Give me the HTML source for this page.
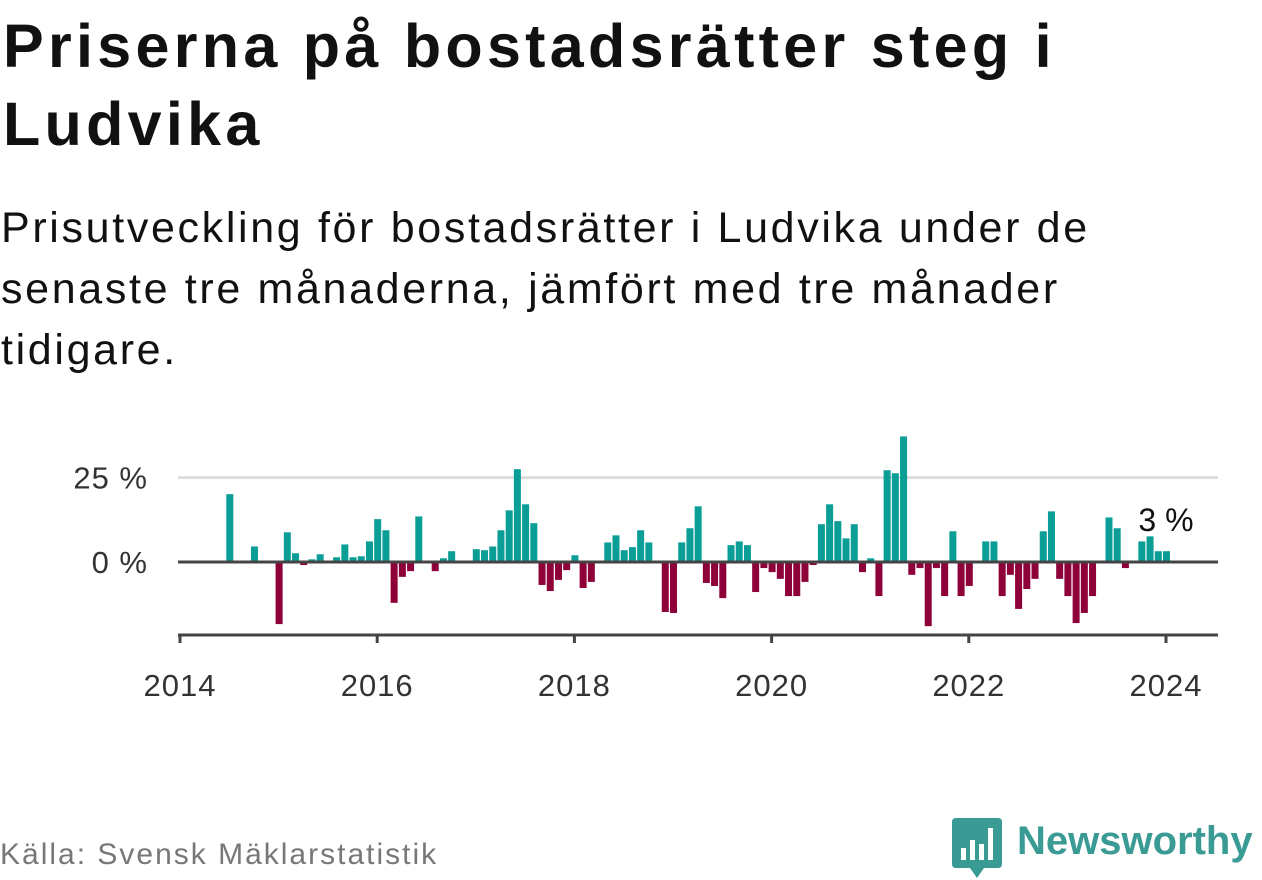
<!DOCTYPE html>
<html><head><meta charset="utf-8">
<style>
body{margin:0;width:1262px;height:879px;background:#fff;overflow:hidden;font-family:"Liberation Sans",sans-serif;position:relative}
h1{position:absolute;left:3px;top:7px;margin:0;font-size:61px;line-height:78px;font-weight:bold;color:#111;letter-spacing:4.3px;white-space:nowrap}
.sub{position:absolute;left:1px;top:198px;margin:0;font-size:43px;line-height:61px;color:#111;letter-spacing:2.65px;white-space:nowrap}
.src{position:absolute;left:0;top:838px;font-size:30px;color:#777;letter-spacing:2px}
.logo{position:absolute;left:952px;top:818px}
.logo-text{position:absolute;left:1017px;top:819px;font-size:40px;font-weight:bold;color:#3a9a94}
</style></head><body>
<h1>Priserna på bostadsrätter steg i<br>Ludvika</h1>
<p class="sub">Prisutveckling för bostadsrätter i Ludvika under de<br>senaste tre månaderna, jämfört med tre månader<br>tidigare.</p>
<svg id="chart" width="1262" height="879" style="position:absolute;left:0;top:0"></svg>
<div class="src">Källa: Svensk Mäklarstatistik</div>
<svg class="logo" width="50" height="62" viewBox="0 0 50 62">
<path d="M4 0H46Q50 0 50 4V46Q50 50 46 50H32L25 60L18 50H4Q0 50 0 46V4Q0 0 4 0Z" fill="#3a9a94"/>
<rect x="9" y="30" width="5" height="12" fill="#fff"/><rect x="18" y="22" width="5" height="20" fill="#fff"/><rect x="27" y="26" width="5" height="16" fill="#fff"/><rect x="36" y="10" width="5" height="32" fill="#fff"/>
</svg>
<div class="logo-text">Newsworthy</div>
<script>
const values = [0,0,0,0,0,0,20.1,0,0,4.6,0,0,
-18.4,8.8,2.6,-0.9,0.8,2.3,0,1.4,5.2,1.4,1.7,6.1,
12.7,9.4,-12.1,-4.4,-2.7,13.5,0,-2.7,1.1,3.2,0,0,
3.8,3.5,4.6,9.4,15.3,27.5,17.1,11.5,-6.8,-8.6,-5.3,-2.4,
2.0,-7.7,-5.9,0,5.8,7.9,3.5,4.4,9.4,5.8,0,-14.8,
-15.1,5.8,10.0,16.5,-6.2,-7.1,-10.7,5.0,6.1,5.0,-8.9,-1.8,
-3.0,-5.0,-10.1,-10.1,-5.9,-0.9,11.2,17.1,12.1,7.0,11.2,-3.0,
1.1,-10.1,27.2,26.3,37.2,-3.8,-1.8,-19.0,-1.8,-10.1,9.1,-10.1,
-7.1,0,6.1,6.1,-10.1,-3.8,-13.9,-8.0,-5.0,9.1,15.0,-5.0,
-10.1,-18.1,-15.1,-10.1,0,13.2,10.0,-1.8,0,6.1,7.6,3.2,
3.2];
const startYear = 2014;
const yTicks = [0,25];
const xTickYears = [2014,2016,2018,2020,2022,2024];
const lastLabel = "3 %";

const NS="http://www.w3.org/2000/svg";
const svg=document.getElementById('chart');
const X0=180,PX=(1166-180)/120,Y0=562,PY=3.375;
const x=m=>X0+m*PX;
const y=v=>Y0-v*PY;
function el(t,a){const e=document.createElementNS(NS,t);for(const k in a)e.setAttribute(k,a[k]);svg.appendChild(e);return e;}
yTicks.forEach(t=>{
  if(t!==0){const g=el('line',{x1:178,x2:1218,y1:y(t),y2:y(t),stroke:'#ddd','stroke-width':3});
  
  }
  const l=el('text',{x:148,y:y(t)+11,'text-anchor':'end','font-size':31,fill:'#333','letter-spacing':1});
  l.textContent=t+' %';
  
  
});
values.forEach((v,m)=>{
  if(v===0)return;
  const r=el('rect',{x:x(m)-3.5+0.5,y:Math.min(y(v),Y0),width:7,height:Math.abs(v)*PY,fill:v>0?'#0a9e96':'#8e0038'});
  
  
});
const z=el('line',{x1:178,x2:1218,y1:Y0,y2:Y0,stroke:'#444','stroke-width':3});


const ax=el('line',{x1:178,x2:1218,y1:635,y2:635,stroke:'#444','stroke-width':3});


xTickYears.forEach(yr=>{
  const xx=x((yr-startYear)*12);
  const t=el('line',{x1:xx,x2:xx,y1:635,y2:643,stroke:'#444','stroke-width':3});
  
  
  const l=el('text',{x:xx,y:696,'text-anchor':'middle','font-size':31,fill:'#333','letter-spacing':1});
  l.textContent=yr;
  
  
});
const last=values.length-1;
const lab=el('text',{x:x(last),y:Math.min(y(values[last]),Y0)-20,'text-anchor':'middle','font-size':32,fill:'#111'});
lab.textContent=lastLabel;


</script>
</body></html>
